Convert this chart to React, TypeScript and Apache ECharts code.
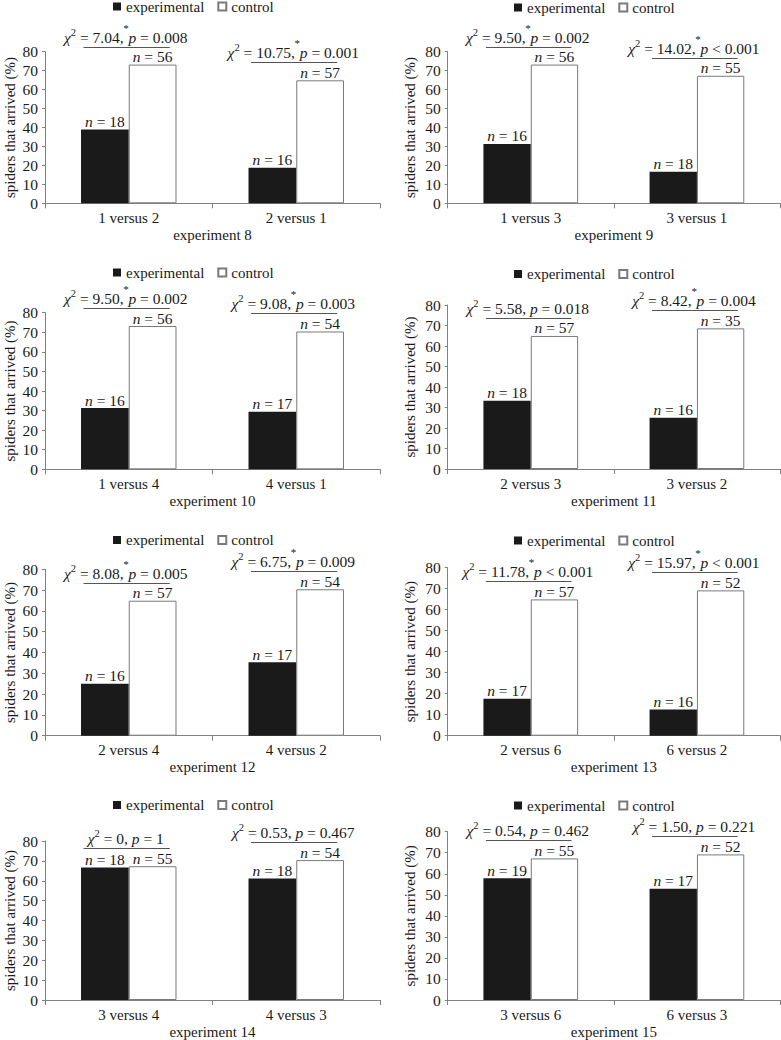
import React, { useEffect, useRef } from "react";
import * as echarts from "echarts";

// ---------- data ----------
const experimentNames = [
  "experiment 8", "experiment 9", "experiment 10", "experiment 11",
  "experiment 12", "experiment 13", "experiment 14", "experiment 15",
];
const categories = [
  ["1 versus 2", "2 versus 1"],
  ["1 versus 3", "3 versus 1"],
  ["1 versus 4", "4 versus 1"],
  ["2 versus 3", "3 versus 2"],
  ["2 versus 4", "4 versus 2"],
  ["2 versus 6", "6 versus 2"],
  ["3 versus 4", "4 versus 3"],
  ["3 versus 6", "6 versus 3"],
];
const experimentalPct = [
  [38.9, 18.8], [31.3, 16.7], [31.3, 29.4], [33.3, 25.0],
  [25.0, 35.3], [17.6, 12.5], [66.7, 61.1], [57.9, 52.9],
];
const controlPct = [
  [73.2, 64.9], [73.2, 67.3], [73.2, 70.4], [64.9, 68.6],
  [64.9, 70.4], [64.9, 69.2], [67.3, 70.4], [67.3, 69.2],
];
const experimentalN = [
  [18, 16], [16, 18], [16, 17], [18, 16], [16, 17], [17, 16], [18, 18], [19, 17],
];
const controlN = [
  [56, 57], [56, 55], [56, 54], [57, 35], [57, 54], [57, 52], [55, 54], [55, 52],
];
const chiSquare = [
  ["7.04", "10.75"], ["9.50", "14.02"], ["9.50", "9.08"], ["5.58", "8.42"],
  ["8.08", "6.75"], ["11.78", "15.97"], ["0", "0.53"], ["0.54", "1.50"],
];
const pValue = [
  ["= 0.008", "= 0.001"], ["= 0.002", "< 0.001"], ["= 0.002", "= 0.003"], ["= 0.018", "= 0.004"],
  ["= 0.005", "= 0.009"], ["< 0.001", "< 0.001"], ["= 1", "= 0.467"], ["= 0.462", "= 0.221"],
];
const significant = [
  [true, true], [true, true], [true, true], [false, true],
  [true, true], [true, true], [false, false], [false, false],
];
const yTicks = { min: 0, max: 80, interval: 10 };
const yAxisTitle = "spiders that arrived (%)";
const legendNames = ["experimental", "control"];

// ---------- layout ----------
const LAYOUT = [
  { left: 45, top: 51.7, width: 335, height: 151.6, legendLeft: 113, legendTop: -1, nameGapY: 28 },
  { left: 447.7, top: 51.7, width: 332.3, height: 151.6, legendLeft: 514, legendTop: 0, nameGapY: 30 },
  { left: 45, top: 312.7, width: 335, height: 156.6, legendLeft: 113, legendTop: 265, nameGapY: 28 },
  { left: 447.7, top: 305, width: 332.3, height: 164, legendLeft: 514, legendTop: 266.5, nameGapY: 30 },
  { left: 45, top: 569.3, width: 335, height: 166.4, legendLeft: 113, legendTop: 532.5, nameGapY: 28 },
  { left: 447.7, top: 567.7, width: 332.3, height: 168, legendLeft: 514, legendTop: 533, nameGapY: 30 },
  { left: 45, top: 841, width: 335, height: 159.7, legendLeft: 113, legendTop: 797.5, nameGapY: 28 },
  { left: 447.7, top: 831.7, width: 332.3, height: 169, legendLeft: 514, legendTop: 798, nameGapY: 30 },
];

const FAMILY = '"Liberation Serif", "Times New Roman", serif';
const TEXT = "#1a1a1a";
const AXIS = "#808080";
const FS = 15.5;

let measureCtx: CanvasRenderingContext2D | null = null;
function textWidth(t: string, size: number, italic: boolean) {
  if (!measureCtx) measureCtx = document.createElement("canvas").getContext("2d");
  if (!measureCtx) return t.length * size * 0.5;
  measureCtx.font = `${italic ? "italic " : ""}${size}px "Liberation Serif"`;
  return measureCtx.measureText(t).width;
}

function makeRenderItem(p: number) {
  return (params: any, api: any) => {
    const i = api.value(0);
    const top = api.value(1);
    const pt = api.coord([i, top]);
    const bw = api.size([1, 0])[0];
    const cx = pt[0];
    const lineY = Math.round(pt[1] - 18) + 0.5;
    const sig = significant[p][i];
    const pieces: any[] = [
      { t: "χ", size: FS, italic: true, dy: 0 },
      { t: "2", size: 10.5, italic: false, dy: -5 },
      { t: ` = ${chiSquare[p][i]},` + (sig ? "" : " "), size: FS, italic: false, dy: 0 },
    ];
    if (sig) pieces.push({ t: "*", size: 11, italic: false, dy: -10, star: true });
    pieces.push({ t: "p", size: FS, italic: true, dy: 0 });
    pieces.push({ t: ` ${pValue[p][i]}`, size: FS, italic: false, dy: 0 });
    const spaceW = textWidth(" ", FS, false) + 1;
    const widths = pieces.map((pc) => (pc.star ? spaceW : textWidth(pc.t, pc.size, pc.italic)));
    const total = widths.reduce((a, b) => a + b, 0);
    let x = cx - 3 - total / 2;
    const ty = lineY - 10;
    const children: any[] = [
      {
        type: "line",
        shape: { x1: cx - 0.27 * bw, y1: lineY, x2: cx + 0.245 * bw, y2: lineY },
        style: { stroke: "#555", lineWidth: 1 },
      },
    ];
    pieces.forEach((pc, k) => {
      children.push({
        type: "text",
        x: pc.star ? x + widths[k] / 2 : x,
        y: ty + pc.dy,
        style: {
          text: pc.t,
          fontSize: pc.size,
          fontFamily: FAMILY,
          fontStyle: pc.italic ? "italic" : "normal",
          fill: TEXT,
          align: pc.star ? "center" : "left",
          verticalAlign: "middle",
        },
      });
      x += widths[k];
    });
    return { type: "group", children };
  };
}

function buildOption() {
  const grid: any[] = [];
  const xAxis: any[] = [];
  const yAxis: any[] = [];
  const legend: any[] = [];
  const series: any[] = [];
  LAYOUT.forEach((L, p) => {
    grid.push({ left: L.left, top: L.top, width: L.width, height: L.height, containLabel: false });
    xAxis.push({
      type: "category",
      gridIndex: p,
      data: categories[p],
      boundaryGap: true,
      axisLine: { lineStyle: { color: AXIS, width: 1 } },
      axisTick: { show: true, length: 5, lineStyle: { color: AXIS } },
      axisLabel: { color: TEXT, fontSize: 15, fontFamily: FAMILY, margin: 7 },
      name: experimentNames[p],
      nameLocation: "middle",
      nameGap: 24,
      nameTextStyle: { color: TEXT, fontSize: 15, fontFamily: FAMILY },
    });
    yAxis.push({
      type: "value",
      gridIndex: p,
      min: yTicks.min,
      max: yTicks.max,
      interval: yTicks.interval,
      axisLine: { show: true, lineStyle: { color: AXIS, width: 1 } },
      axisTick: { show: true, length: 3, lineStyle: { color: AXIS } },
      splitLine: { show: false },
      axisLabel: { color: TEXT, fontSize: FS, fontFamily: FAMILY, margin: 7 },
      name: yAxisTitle,
      nameLocation: "middle",
      nameRotate: 90,
      nameGap: L.nameGapY,
      nameTextStyle: { color: TEXT, fontSize: 15, fontFamily: FAMILY },
    });
    legend.push({
      data: legendNames,
      left: L.legendLeft,
      top: L.legendTop,
      padding: 0,
      icon: "rect",
      itemWidth: 8,
      itemHeight: 8,
      itemGap: 13,
      selectedMode: false,
      textStyle: { color: TEXT, fontSize: 15, fontFamily: FAMILY },
    });
    const rich = {
      i: { fontStyle: "italic", fontSize: FS, fontFamily: FAMILY, color: TEXT },
      r: { fontSize: FS, fontFamily: FAMILY, color: TEXT },
    };
    series.push({
      type: "bar",
      name: legendNames[0],
      xAxisIndex: p,
      yAxisIndex: p,
      data: experimentalPct[p],
      barGap: "0%",
      barCategoryGap: "43%",
      itemStyle: { color: "#1a1a1a", borderColor: "#1a1a1a", borderWidth: 0 },
      label: {
        show: true,
        position: "top",
        distance: 0,
        formatter: (d: any) => `{i|n}{r| = ${experimentalN[p][d.dataIndex]}}`,
        rich,
      },
    });
    series.push({
      type: "bar",
      name: legendNames[1],
      xAxisIndex: p,
      yAxisIndex: p,
      data: controlPct[p],
      barGap: "0%",
      barCategoryGap: "43%",
      itemStyle: { color: "#ffffff", borderColor: "#7a7a7a", borderWidth: 1 },
      label: {
        show: true,
        position: "top",
        distance: 0,
        formatter: (d: any) => `{i|n}{r| = ${controlN[p][d.dataIndex]}}`,
        rich,
      },
    });
    series.push({
      type: "custom",
      name: "chi" + p,
      xAxisIndex: p,
      yAxisIndex: p,
      silent: true,
      z: 10,
      clip: false,
      encode: { x: 0, y: 1 },
      data: categories[p].map((_, i) => [i, Math.max(experimentalPct[p][i], controlPct[p][i])]),
      renderItem: makeRenderItem(p),
    });
  });
  return {
    animation: false,
    backgroundColor: "#ffffff",
    textStyle: { fontFamily: FAMILY },
    grid,
    xAxis,
    yAxis,
    legend,
    series,
  };
}

export default function App() {
  const ref = useRef<HTMLDivElement>(null);
  useEffect(() => {
    document.body.style.margin = "0";
    if (!ref.current) return;
    const chart = echarts.init(ref.current, undefined, { renderer: "svg" });
    chart.setOption(buildOption() as any);
    return () => chart.dispose();
  }, []);
  return <div ref={ref} style={{ width: 781, height: 1040, position: "absolute", left: 0, top: 0 }} />;
}
